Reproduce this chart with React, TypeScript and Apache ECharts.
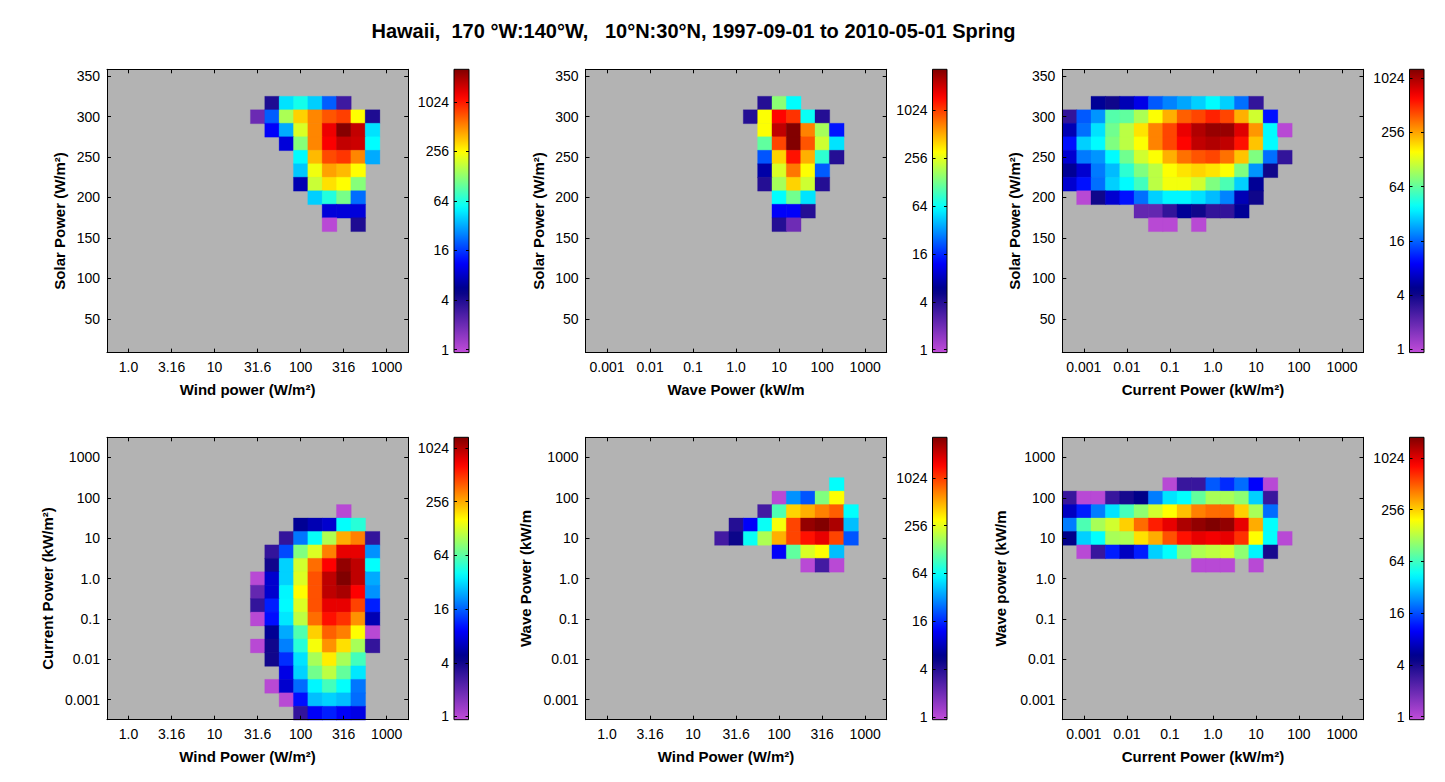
import React, { useEffect, useRef } from "react";
import * as echarts from "echarts";

type Row = [number, number, number[]];

const FONT = "Liberation Sans, Arial, Helvetica, sans-serif";

const chartTitle = "Hawaii,  170 °W:140°W,   10°N:30°N, 1997-09-01 to 2010-05-01 Spring";

// Tick values (log10 units for power axes, W/m² for solar, log2 for counts) and labels
const windTicks = [0, 0.5, 1, 1.5, 2, 2.5, 3];
const windTickLabels = ["1.0", "3.16", "10", "31.6", "100", "316", "1000"];
const logTicks = [-3, -2, -1, 0, 1, 2, 3];
const logTickLabels = ["0.001", "0.01", "0.1", "1.0", "10", "100", "1000"];
const solarTicks = [50, 100, 150, 200, 250, 300, 350];
const solarTickLabels = ["50", "100", "150", "200", "250", "300", "350"];
const countTicks = [0, 2, 4, 6, 8, 10];
const countTickLabels = ["1", "4", "16", "64", "256", "1024"];

// Bin widths
const WIND_BIN = 1 / 6; // decades
const LOG_BIN = 1 / 3; // decades
const SOLAR_BIN = 50 / 3; // W/m²

// Colour scale range (log2 of counts) per panel
const COLOR_MIN_LOG2 = -0.12;
const colorMaxLog2 = [11.31, 11.71, 10.33, 10.4, 11.7, 10.8];

// Rows: [yBin, first xBin, counts...]
const windSolarRows: Row[] = [
  [19, 10, [4, 45, 60, 40, 20, 3]],
  [18, 9, [2, 20, 150, 330, 520, 700, 800, 250, 4]],
  [17, 10, [11, 32, 200, 520, 1300, 2450, 1700, 45]],
  [16, 11, [9, 120, 520, 1200, 1700, 1600, 53]],
  [15, 12, [52, 380, 750, 850, 520, 32]],
  [14, 12, [38, 230, 440, 380, 250]],
  [13, 12, [7, 180, 300, 250, 120]],
  [12, 13, [40, 65, 110, 22]],
  [11, 14, [9, 9, 9]],
  [10, 14, [1, 0, 4]],
];

const waveSolarRows: Row[] = [
  [19, 2, [4, 147, 61]],
  [18, 1, [4, 300, 1480, 1100, 65, 4]],
  [17, 2, [300, 2240, 3280, 665, 173, 14]],
  [16, 2, [112, 980, 3280, 890, 222, 52]],
  [15, 2, [21, 400, 1350, 500, 82, 4]],
  [14, 2, [7, 240, 720, 300, 22]],
  [13, 2, [4, 173, 400, 222, 4]],
  [12, 3, [61, 125, 52]],
  [11, 3, [12, 12, 4]],
  [10, 3, [4, 2]],
];

const currentSolarRows: Row[] = [
  [19, -8, [5, 4, 6, 8, 15, 19, 23, 29, 37, 29, 17, 3]],
  [18, -10, [3, 15, 21, 60, 64, 97, 153, 240, 375, 433, 530, 433, 240, 119, 10]],
  [17, -10, [6, 17, 32, 70, 106, 180, 308, 433, 710, 980, 1130, 1130, 760, 275, 37, 1]],
  [16, -10, [10, 29, 37, 76, 106, 153, 308, 433, 625, 900, 980, 900, 580, 215, 37]],
  [15, -10, [7, 18, 21, 37, 70, 119, 153, 240, 340, 400, 433, 340, 215, 76, 17, 3]],
  [14, -10, [5, 7, 18, 26, 48, 76, 106, 153, 180, 196, 180, 153, 76, 21, 4]],
  [13, -10, [7, 10, 17, 29, 37, 54, 106, 145, 145, 119, 76, 57, 29, 5]],
  [12, -9, [1, 4, 7, 10, 17, 29, 36, 36, 32, 26, 19, 6, 4]],
  [11, -5, [2, 2, 3, 5, 4, 3, 3, 5]],
  [10, -4, [1, 1, 0, 1]],
];

const windCurrentRows: Row[] = [
  [5, 15, [1]],
  [4, 12, [5, 6, 7, 39, 48]],
  [3, 11, [3, 18, 40, 102, 254, 326, 3]],
  [2, 10, [3, 14, 79, 132, 326, 755, 755, 21]],
  [1, 10, [4, 30, 124, 362, 666, 1210, 955, 39]],
  [0, 9, [1, 7, 30, 132, 422, 955, 1350, 955, 24]],
  [-1, 9, [2, 7, 37, 161, 422, 955, 1080, 666, 21]],
  [-2, 9, [3, 11, 38, 132, 422, 755, 755, 460, 11]],
  [-3, 9, [1, 10, 34, 111, 362, 610, 505, 294, 6]],
  [-4, 10, [5, 24, 60, 208, 388, 326, 161, 1]],
  [-5, 9, [1, 4, 19, 48, 152, 294, 190, 98, 3]],
  [-6, 10, [4, 12, 33, 98, 176, 98, 56]],
  [-7, 11, [8, 30, 73, 111, 67, 34]],
  [-8, 10, [1, 7, 17, 37, 56, 39, 18]],
  [-9, 11, [1, 10, 27, 30, 27, 17]],
  [-10, 12, [3, 9, 11, 9, 8]],
];

const windWaveRows: Row[] = [
  [7, 16, [62]],
  [6, 12, [1, 31, 21, 137, 300]],
  [5, 11, [3, 99, 400, 500, 665, 830, 62]],
  [4, 9, [4, 12, 65, 286, 980, 2900, 3280, 2520, 41]],
  [3, 8, [3, 5, 65, 181, 500, 980, 1350, 1730, 980, 21]],
  [2, 12, [12, 112, 240, 300, 41]],
  [1, 14, [1, 3, 1]],
];

const currentWaveRows: Row[] = [
  [7, -3, [1, 3, 3, 17, 13, 19, 10, 1]],
  [6, -10, [3, 1, 1, 3, 4, 5, 21, 38, 45, 79, 118, 118, 101, 34, 3]],
  [5, -10, [7, 12, 21, 38, 66, 101, 149, 195, 280, 407, 458, 458, 256, 118, 19]],
  [4, -10, [21, 69, 118, 149, 256, 458, 720, 975, 1370, 1600, 1780, 1600, 975, 315, 45]],
  [3, -10, [5, 34, 45, 118, 122, 232, 315, 534, 776, 975, 904, 975, 644, 195, 45, 1]],
  [2, -9, [1, 3, 12, 7, 12, 34, 45, 94, 122, 133, 149, 101, 42, 4]],
  [1, -1, [1, 1, 1, 0, 1]],
];

// ---------- colormap (jet with a magenta/purple foot) ----------
const CMAP_STOPS: [number, number[]][] = [
  [0, [0.76, 0.3, 0.85]],
  [0.22, [0.0, 0.0, 0.52]],
  [0.3175, [0, 0, 1]],
  [0.5125, [0, 1, 1]],
  [0.7075, [1, 1, 0]],
  [0.9025, [1, 0, 0]],
  [1, [0.5, 0, 0]],
];

function cmap(f: number): string {
  const t = Math.max(0, Math.min(1, f));
  for (let i = 1; i < CMAP_STOPS.length; i++) {
    const [f1, c1] = CMAP_STOPS[i];
    const [f0, c0] = CMAP_STOPS[i - 1];
    if (t <= f1) {
      const u = (t - f0) / (f1 - f0);
      const c = c0.map((v, k) => Math.round((v + (c1[k] - v) * u) * 255));
      return `rgb(${c[0]},${c[1]},${c[2]})`;
    }
  }
  return "rgb(128,0,0)";
}

interface AxisDef {
  min: number;
  max: number;
  step: number;
  ticks: number[];
  labels: string[];
}

const windAxis: AxisDef = { min: -0.25, max: 3.25, step: WIND_BIN, ticks: windTicks, labels: windTickLabels };
const logAxis: AxisDef = { min: -3.5, max: 3.5, step: LOG_BIN, ticks: logTicks, labels: logTickLabels };
const solarAxis: AxisDef = { min: SOLAR_BIN / 2, max: SOLAR_BIN * 21.5, step: SOLAR_BIN, ticks: solarTicks, labels: solarTickLabels };

interface Panel {
  rows: Row[];
  x: AxisDef;
  y: AxisDef;
  xName: string;
  yName: string;
  xPad: boolean;
  yPad: boolean;
  yGap: number;
}

const panels: Panel[] = [
  { rows: windSolarRows, x: windAxis, y: solarAxis, xName: "Wind power (W/m²)", yName: "Solar Power (W/m²)", xPad: true, yPad: true, yGap: 40 },
  { rows: waveSolarRows, x: logAxis, y: solarAxis, xName: "Wave Power (kW/m", yName: "Solar Power (W/m²)", xPad: false, yPad: true, yGap: 40 },
  { rows: currentSolarRows, x: logAxis, y: solarAxis, xName: "Current Power (kW/m²)", yName: "Solar Power (W/m²)", xPad: true, yPad: true, yGap: 40 },
  { rows: windCurrentRows, x: windAxis, y: logAxis, xName: "Wind Power (W/m²)", yName: "Current Power (kW/m²)", xPad: true, yPad: true, yGap: 52 },
  { rows: windWaveRows, x: windAxis, y: logAxis, xName: "Wind Power (W/m²)", yName: "Wave Power (kW/m", xPad: true, yPad: false, yGap: 53 },
  { rows: currentWaveRows, x: logAxis, y: logAxis, xName: "Current Power (kW/m²)", yName: "Wave power (kW/m", xPad: true, yPad: false, yGap: 54 },
];

const layout = [
  { left: 107, top: 69.3, h: 283.3, cbLeft: 454, cbW: 15 },
  { left: 585.5, top: 69.3, h: 283.3, cbLeft: 932.5, cbW: 14.5 },
  { left: 1062.3, top: 69.3, h: 283.3, cbLeft: 1409.5, cbW: 14.5 },
  { left: 107, top: 437.3, h: 282.4, cbLeft: 454, cbW: 14.5 },
  { left: 585.5, top: 437.3, h: 282.4, cbLeft: 932.5, cbW: 14.5 },
  { left: 1062.3, top: 437.3, h: 282.4, cbLeft: 1409.5, cbW: 14.5 },
];
const PLOT_W = 301.2;

function labelFor(ticks: number[], labels: string[]) {
  return (v: number) => {
    const i = ticks.findIndex((t) => Math.abs(t - v) < 1e-6);
    return i >= 0 ? labels[i] : "";
  };
}

function plotAxis(def: AxisDef, gridIndex: number, position: string, showLabels: boolean, name?: string, gap?: number, pad?: boolean) {
  return {
    type: "value",
    gridIndex,
    position,
    min: def.min,
    max: def.max,
    z: 5,
    axisLine: { show: true, onZero: false, lineStyle: { color: "#000", width: 1 } },
    axisTick: { show: true, inside: true, length: 4, customValues: def.ticks, lineStyle: { color: "#000", width: 1 } },
    axisLabel: {
      show: showLabels,
      customValues: def.ticks,
      formatter: labelFor(def.ticks, def.labels),
      color: "#000",
      fontSize: 14,
      fontFamily: FONT,
      margin: 7,
    },
    splitLine: { show: false },
    name: name || "",
    nameLocation: "middle",
    nameGap: gap || 0,
    nameTextStyle: {
      color: "#000",
      fontSize: 15,
      fontWeight: "bold",
      fontFamily: FONT,
      padding: pad ? [0, 20, 0, 0] : 0,
    },
  };
}

function colorbarAxis(gridIndex: number, position: string, showLabels: boolean, hi: number) {
  return {
    type: "value",
    gridIndex,
    position,
    min: COLOR_MIN_LOG2,
    max: hi,
    z: 5,
    axisLine: { show: false, onZero: false },
    axisTick: { show: true, inside: true, length: 3, customValues: countTicks, lineStyle: { color: "#000", width: 1 } },
    axisLabel: {
      show: showLabels,
      customValues: countTicks,
      formatter: labelFor(countTicks, countTickLabels),
      color: "#000",
      fontSize: 14,
      fontFamily: FONT,
      margin: 5,
    },
    splitLine: { show: false },
  };
}

function buildOption() {
  const grids: any[] = [];
  const xAxes: any[] = [];
  const yAxes: any[] = [];
  const series: any[] = [];

  panels.forEach((p, i) => {
    const L = layout[i];
    const lo = COLOR_MIN_LOG2;
    const hi = colorMaxLog2[i];
    const g = grids.length;
    grids.push({ left: L.left, top: L.top, width: PLOT_W, height: L.h, show: true, backgroundColor: "#b3b3b3", borderWidth: 0, z: 0 });
    grids.push({ left: L.cbLeft, top: L.top, width: L.cbW, height: L.h, show: false });

    const xi = xAxes.length;
    const yi = yAxes.length;
    xAxes.push(plotAxis(p.x, g, "bottom", true, p.xName, 29, p.xPad));
    xAxes.push(plotAxis(p.x, g, "top", false));
    xAxes.push({ type: "value", gridIndex: g + 1, min: 0, max: 1, show: false });
    yAxes.push(plotAxis(p.y, g, "left", true, p.yName, p.yGap, p.yPad));
    yAxes.push(plotAxis(p.y, g, "right", false));
    yAxes.push(colorbarAxis(g + 1, "left", true, hi));
    yAxes.push(colorbarAxis(g + 1, "right", false, hi));

    const data: number[][] = [];
    p.rows.forEach(([yb, xb0, counts]) => {
      counts.forEach((c, m) => {
        if (c > 0) data.push([(xb0 + m) * p.x.step, yb * p.y.step, c]);
      });
    });
    const dx = p.x.step;
    const dy = p.y.step;

    series.push({
      type: "custom",
      coordinateSystem: "cartesian2d",
      xAxisIndex: xi,
      yAxisIndex: yi,
      silent: true,
      z: 2,
      data,
      renderItem: (_params: any, api: any) => {
        const x = api.value(0);
        const y = api.value(1);
        const c = api.value(2);
        const p0 = api.coord([x - dx / 2, y + dy / 2]);
        const p1 = api.coord([x + dx / 2, y - dy / 2]);
        const col = cmap((Math.log2(c) - lo) / (hi - lo));
        return {
          type: "rect",
          shape: { x: p0[0], y: p0[1], width: p1[0] - p0[0] + 0.4, height: p1[1] - p0[1] + 0.4 },
          style: { fill: col, stroke: col, lineWidth: 0.3 },
        };
      },
    });

    const stops = [];
    for (let t = 0; t <= 48; t++) stops.push({ offset: t / 48, color: cmap(t / 48) });
    series.push({
      type: "custom",
      coordinateSystem: "cartesian2d",
      xAxisIndex: xi + 2,
      yAxisIndex: yi + 2,
      silent: true,
      z: 2,
      data: [[0, lo, hi]],
      renderItem: (_params: any, api: any) => {
        const a = api.coord([0, api.value(2)]);
        const b = api.coord([1, api.value(1)]);
        return {
          type: "rect",
          shape: { x: a[0], y: a[1], width: b[0] - a[0], height: b[1] - a[1] },
          style: {
            fill: new echarts.graphic.LinearGradient(0, 1, 0, 0, stops),
            stroke: "#000",
            lineWidth: 1,
          },
        };
      },
    });
  });

  return {
    animation: false,
    backgroundColor: "#ffffff",
    grid: grids,
    xAxis: xAxes,
    yAxis: yAxes,
    series,
    graphic: [
      {
        type: "text",
        x: 693.5,
        y: 31,
        style: {
          text: chartTitle,
          align: "center",
          verticalAlign: "middle",
          fontSize: 20,
          fontWeight: "bold",
          fontFamily: FONT,
          fill: "#000",
        },
      },
    ],
  };
}

export default function App() {
  const ref = useRef<HTMLDivElement>(null);
  useEffect(() => {
    if (!ref.current) return;
    const chart = echarts.init(ref.current, undefined, { renderer: "svg" });
    chart.setOption(buildOption() as any);
    return () => chart.dispose();
  }, []);
  return (
    <div
      ref={ref}
      style={{ position: "fixed", left: 0, top: 0, width: 1445, height: 782, background: "#fff" }}
    />
  );
}
